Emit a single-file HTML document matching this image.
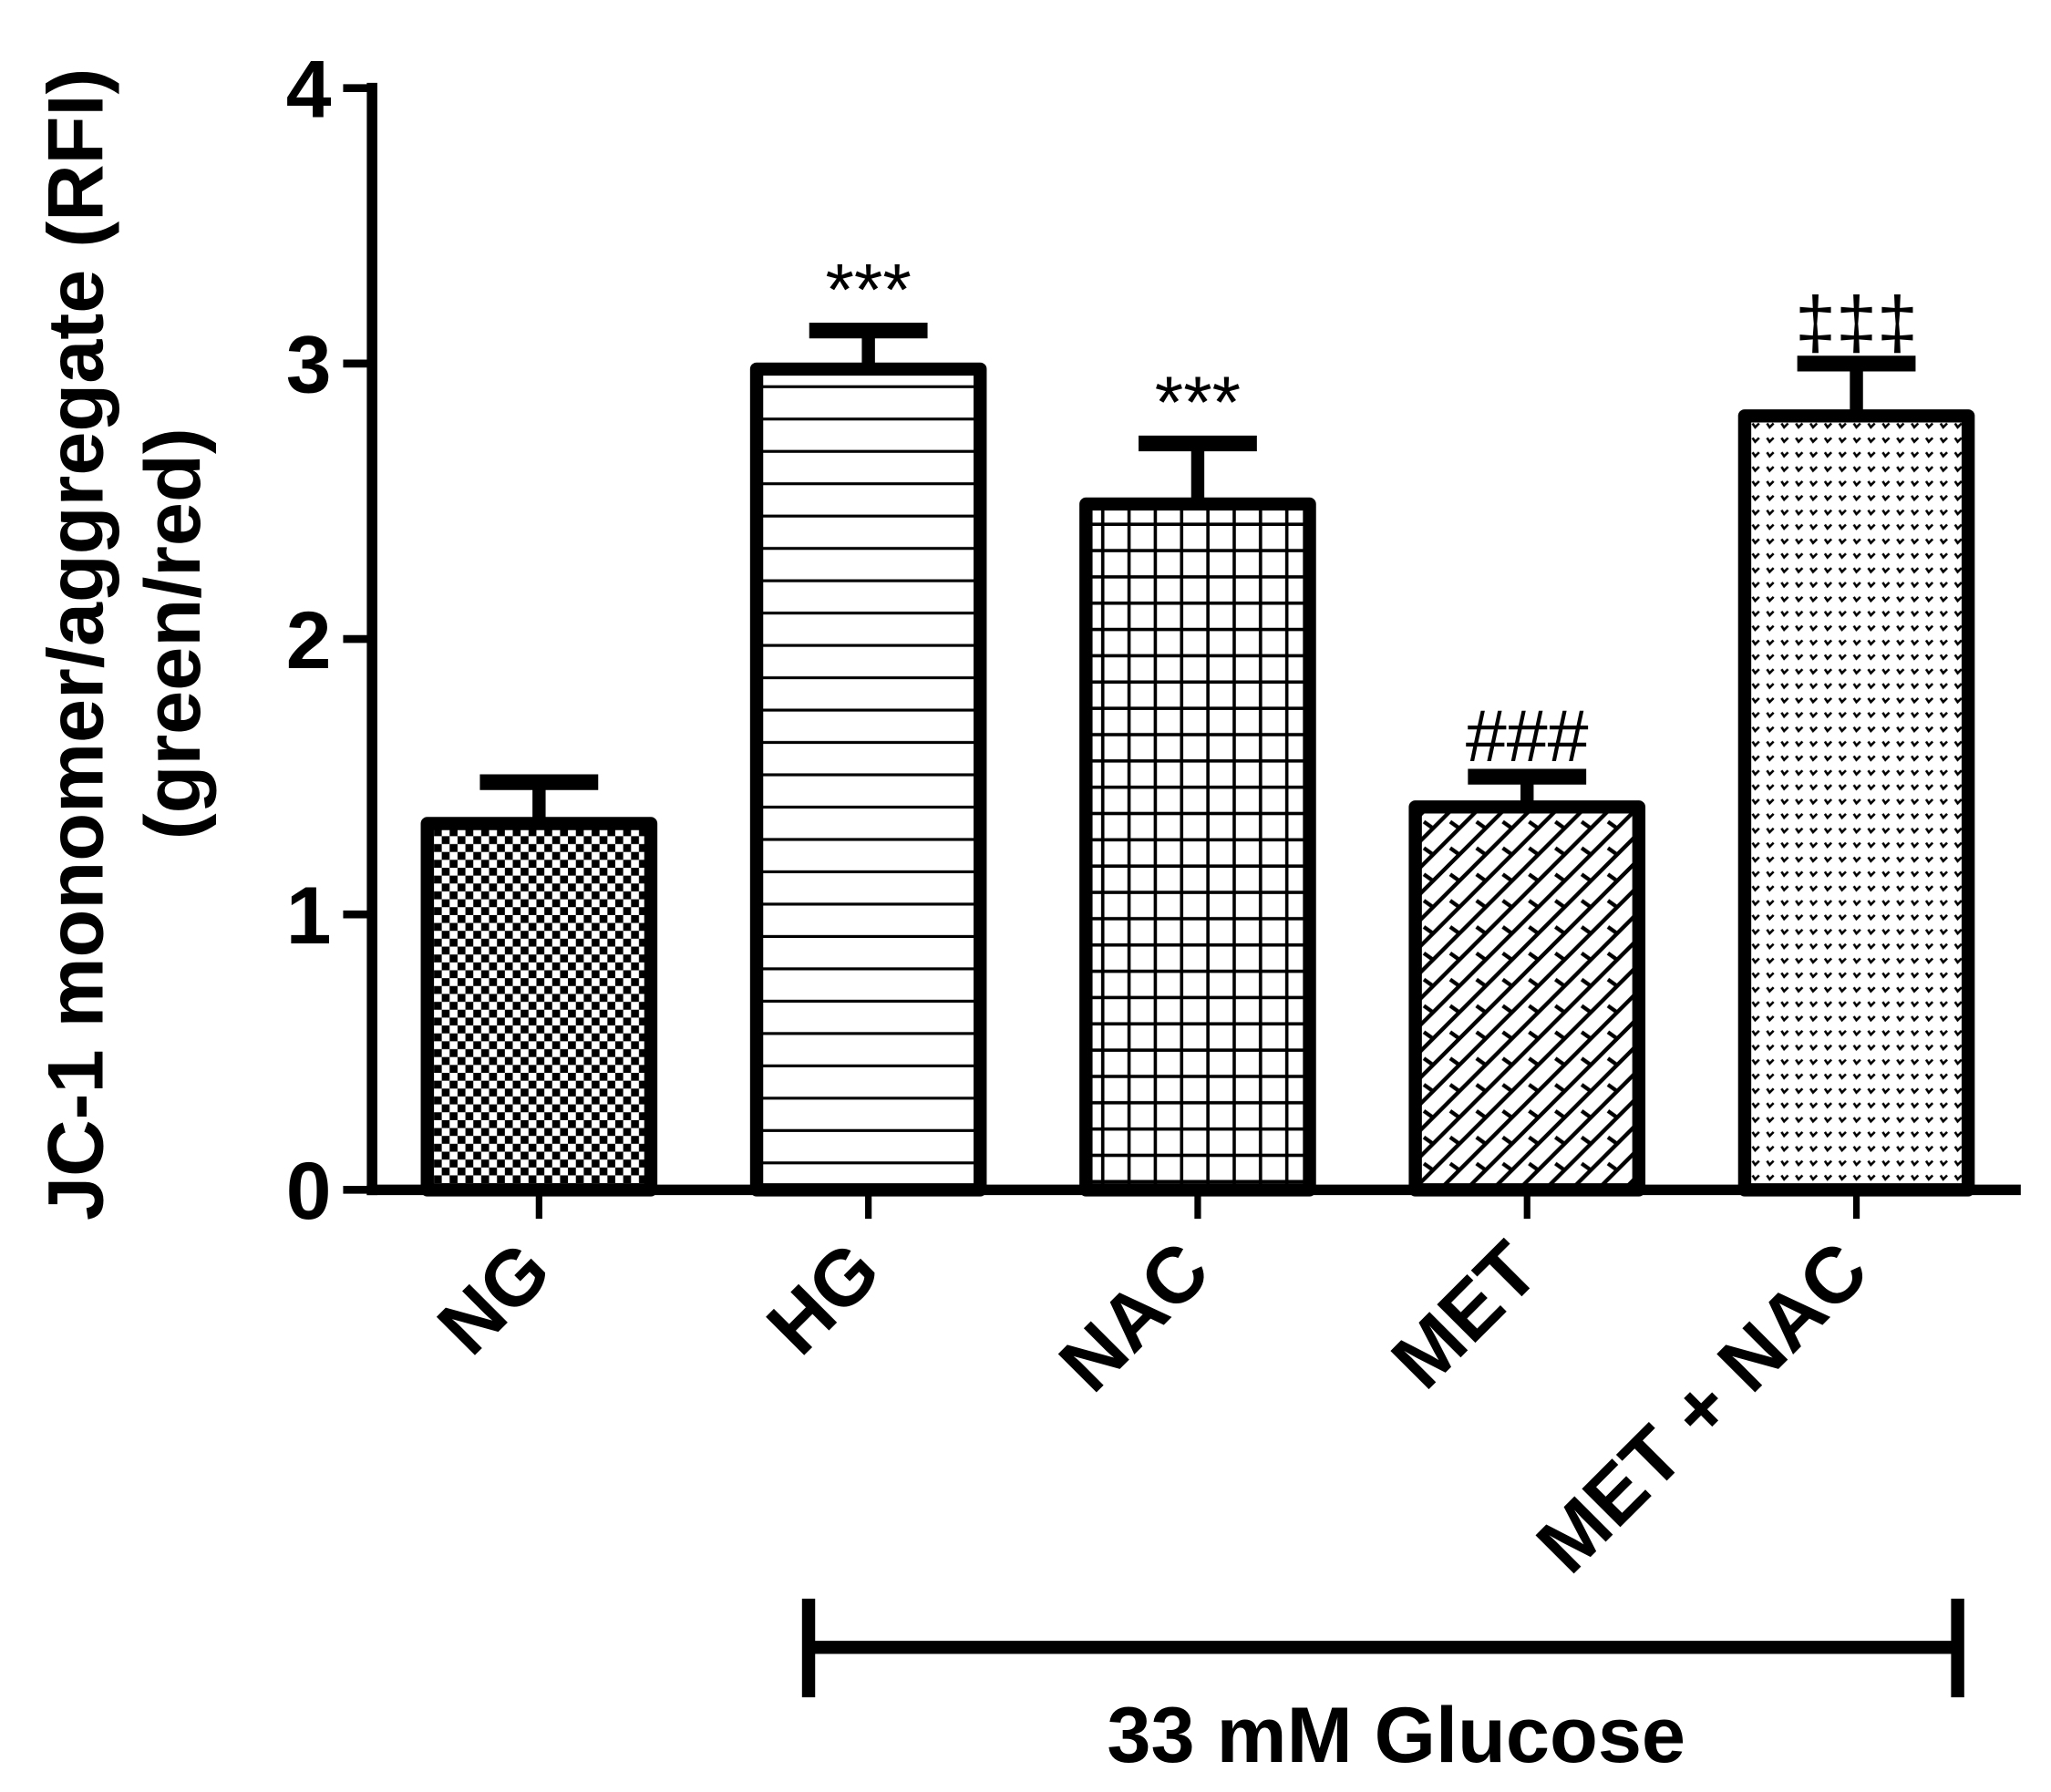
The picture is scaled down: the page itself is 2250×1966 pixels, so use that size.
<!DOCTYPE html>
<html><head><meta charset="utf-8"><style>
html,body{margin:0;padding:0;background:#fff}
svg{display:block}
text{font-family:"Liberation Sans",Arial,sans-serif;font-weight:bold;fill:#000}
</style></head><body>
<svg id="chart" width="2250" height="1966" viewBox="0 0 1560 1363" xmlns="http://www.w3.org/2000/svg">
<defs>
<pattern id="p0" width="12" height="12" patternUnits="userSpaceOnUse"><rect width="12" height="12" fill="#fff"/><rect width="6" height="6" fill="#000"/><rect x="6" y="6" width="6" height="6" fill="#000"/></pattern>
<pattern id="p1" width="10" height="24.6" patternUnits="userSpaceOnUse"><rect width="10" height="24.6" fill="#fff"/><rect y="22.4" width="10" height="2.6" fill="#000"/></pattern>
<pattern id="p2" width="20" height="20" patternUnits="userSpaceOnUse"><rect width="20" height="20" fill="#fff"/><rect y="17.5" width="20" height="3" fill="#000"/><rect x="17.5" width="3" height="20" fill="#000"/></pattern>
<pattern id="p3" width="20" height="20" patternUnits="userSpaceOnUse"><rect width="20" height="20" fill="#fff"/><path d="M0 20 L20 0 M-5 5 L5 -5 M15 25 L25 15" stroke="#000" stroke-width="3"/><path d="M3 5 L10 10" stroke="#000" stroke-width="3"/></pattern>
<pattern id="p4" width="11" height="11" patternUnits="userSpaceOnUse"><rect width="11" height="11" fill="#fff"/><path d="M2 3 L4 6 L7 3" stroke="#000" stroke-width="1.8" fill="none"/></pattern>
</defs>
<g id="plot"></g>
</svg>
<script>
const categories = ["NG","HG","NAC","MET","MET + NAC"];
const values = [1.33, 2.98, 2.49, 1.39, 2.81];
const errors = [0.15, 0.14, 0.22, 0.11, 0.19];
const annotations = ["", "***", "***", "###", "‡‡‡"];
const yTicks = [0,1,2,3,4];
const patterns = ["p0","p1","p2","p3","p4"];

const NS = "http://www.w3.org/2000/svg";
const g = document.getElementById('plot');
const x0 = 283, xEnd = 1537, y0 = 905, yTop = 67, yMax = 4;
const yScale = v => y0 - (v / yMax) * (y0 - yTop);
const xCenter = i => 410 + i * 250.5;
const barW = 170;
function el(tag, attrs, parent) {
  const e = document.createElementNS(NS, tag);
  for (const k in attrs) e.setAttribute(k, attrs[k]);
  (parent || g).appendChild(e);
  return e;
}
values.forEach((v, i) => {
  const cx = xCenter(i);
  const top = yScale(v);
  const eb = el('line', {x1: cx, x2: cx, y1: top, y2: yScale(v + errors[i]), stroke: '#000', 'stroke-width': 10});
  
  
  const cap = el('line', {x1: cx - 45, x2: cx + 45, y1: yScale(v + errors[i]), y2: yScale(v + errors[i]), stroke: '#000', 'stroke-width': 12});
  
  
  const r = el('rect', {x: cx - barW / 2, y: top, width: barW, height: y0 - top, fill: 'url(#' + patterns[i] + ')', stroke: '#000', 'stroke-width': 10, 'stroke-linejoin': 'round'});
  
  
  if (annotations[i]) {
    const t = el('text', {x: cx, y: yScale(v + errors[i]) - 12, 'text-anchor': 'middle', 'font-size': 56, style: 'font-weight:normal;font-family:"Liberation Sans",sans-serif'});
    t.textContent = annotations[i];
    
    
  }
  const tk = el('line', {x1: cx, x2: cx, y1: y0, y2: y0 + 22, stroke: '#000', 'stroke-width': 5});
  
  
  const lx = cx + 12, ly = y0 + 65;
  const lbl = el('text', {x: lx, y: ly, 'text-anchor': 'end', 'font-size': 60, transform: 'rotate(-45 ' + lx + ' ' + ly + ')'});
  lbl.textContent = categories[i];
  
  
});
const ya = el('line', {x1: x0, x2: x0, y1: yTop - 4, y2: y0 + 4, stroke: '#000', 'stroke-width': 8});


const xa = el('line', {x1: x0 - 4, x2: xEnd, y1: y0, y2: y0, stroke: '#000', 'stroke-width': 8});


yTicks.forEach(t => {
  const y = yScale(t);
  const tl = el('line', {x1: x0 - 22, x2: x0, y1: y, y2: y, stroke: '#000', 'stroke-width': 6});
  
  
  const tx = el('text', {x: 252, y: y + 22, 'text-anchor': 'end', 'font-size': 62});
  tx.textContent = t;
  
  
});
const yt = el('text', {x: 0, y: 0, 'text-anchor': 'middle', 'font-size': 60, transform: 'translate(78 490) rotate(-90)'});
yt.textContent = 'JC-1 monomer/aggregate (RFI)';


const yt2 = el('text', {x: 0, y: 0, 'text-anchor': 'middle', 'font-size': 60, transform: 'translate(152 482) rotate(-90)'});
yt2.textContent = '(green/red)';


const bl = el('line', {x1: 615, x2: 1489, y1: 1253, y2: 1253, stroke: '#000', 'stroke-width': 10});


const bc1 = el('line', {x1: 615, x2: 615, y1: 1216, y2: 1291, stroke: '#000', 'stroke-width': 10});


const bc2 = el('line', {x1: 1489, x2: 1489, y1: 1216, y2: 1291, stroke: '#000', 'stroke-width': 10});


const gt = el('text', {x: 1062, y: 1340, 'text-anchor': 'middle', 'font-size': 60});
gt.textContent = '33 mM Glucose';


</script>
</body></html>
